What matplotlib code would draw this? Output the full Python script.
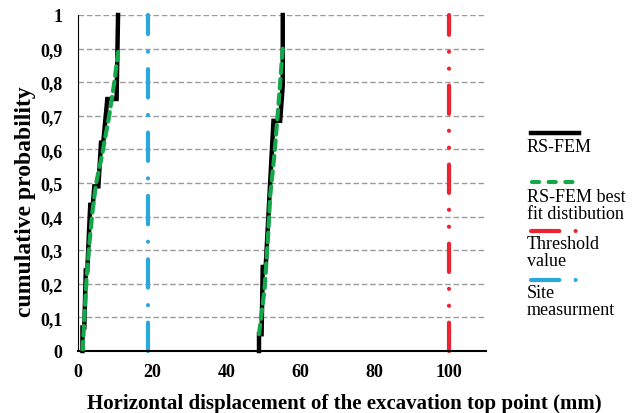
import matplotlib
matplotlib.use("Agg")
import matplotlib.pyplot as plt
from matplotlib.lines import Line2D

# ---- data ----
fem1_x = [1.2, 1.2, 1.7, 2.1, 2.5, 3.3, 4.0, 4.4, 5.5, 6.2, 6.8, 7.9, 10.4, 10.8]
fem1_p = [0.0, 0.07, 0.07, 0.24, 0.24, 0.435, 0.435, 0.49, 0.49, 0.62, 0.62, 0.75, 0.75, 1.0]
fem2_x = [48.8, 48.8, 49.5, 49.8, 50.6, 51.8, 52.7, 54.5, 55.2, 55.2]
fem2_p = [0.0, 0.05, 0.05, 0.25, 0.25, 0.5, 0.685, 0.685, 0.79, 1.0]

fit1_x = [1.25, 1.7, 2.3, 3.0, 3.95, 4.9, 6.6, 8.4, 9.8, 10.8]
fit1_p = [0.0, 0.095, 0.214, 0.313, 0.42, 0.5, 0.59, 0.70, 0.80, 0.89]
fit2_x = [48.8, 50.3, 51.2, 51.8, 53.0, 54.1, 55.2]
fit2_p = [0.05, 0.185, 0.333, 0.46, 0.59, 0.74, 0.9]

threshold_x = 100
site_x = 19
yticks = [0, 0.1, 0.2, 0.3, 0.4, 0.5, 0.6, 0.7, 0.8, 0.9, 1.0]
ytick_labels = ["0", "0,1", "0,2", "0,3", "0,4", "0,5", "0,6", "0,7", "0,8", "0,9", "1"]
xticks = [0, 20, 40, 60, 80, 100]
legend_labels = ["RS-FEM", "RS-FEM best\nfit distibution", "Threshold\nvalue", "Site\nmeasurment"]

BLACK = "#000000"
GREEN = "#14A84B"
RED = "#EE2330"
BLUE = "#2AA7DF"
SERIF = "Liberation Serif"

W, H = 640, 414
fig = plt.figure(figsize=(6.4, 4.14), dpi=100)
ax = fig.add_axes([78 / W, 1 - 352 / H, (486 - 78) / W, (352 - 16) / H])
ax.set_xlim(0, 110)
ax.set_ylim(0, 1)

# grid
for y in yticks[1:]:
    ax.axhline(y, color="#9a9a9a", lw=1.0, ls=(0, (4, 2)), zorder=1)

VLW = 3.0
BLUE_DASH = (6.8, 4.2, 0.01, 4.2)
RED_DASH = (6.8, 4.05, 0.01, 4.05, 0.01, 4.05)
# vertical reference lines
ax.plot([site_x, site_x], [0, 1], color=BLUE, lw=VLW, dashes=BLUE_DASH,
        dash_capstyle="round", zorder=2, clip_on=False)
ax.plot([threshold_x, threshold_x], [0, 1], color=RED, lw=VLW,
        dashes=RED_DASH, dash_capstyle="round", zorder=2, clip_on=False)

# RS-FEM empirical curves
ax.plot(fem1_x, fem1_p, color=BLACK, lw=3.2, zorder=3, clip_on=False, solid_joinstyle="miter")
ax.plot(fem2_x, fem2_p, color=BLACK, lw=3.2, zorder=3, clip_on=False, solid_joinstyle="miter")
# fitted curves
ax.plot(fit1_x, fit1_p, color=GREEN, lw=3.0, dashes=(2.3, 1.4), dash_capstyle="round", zorder=4)
ax.plot(fit2_x, fit2_p, color=GREEN, lw=3.0, dashes=(2.3, 1.4), dash_capstyle="round", zorder=4)

for s in ["top", "right"]:
    ax.spines[s].set_visible(False)
ax.spines["left"].set_linestyle((0, (1, 1)))
ax.spines["left"].set_linewidth(0.8)
ax.spines["bottom"].set_linewidth(1.5)

ax.set_yticks(yticks)
ax.set_yticklabels(ytick_labels)
ax.set_xticks(xticks)
ax.set_xticklabels([str(v) for v in xticks])
ax.tick_params(length=0)
ax.tick_params(axis="y", pad=11)
ax.tick_params(axis="x", pad=9)
for lab in ax.get_xticklabels() + ax.get_yticklabels():
    lab.set_fontfamily(SERIF)
    lab.set_fontweight("bold")
    lab.set_fontsize(13)

fig.text(344 / W, 1 - 404 / H, "Horizontal displacement of the excavation top point (mm)",
         family=SERIF, weight="bold", fontsize=15, ha="center", va="center")
fig.text(26 / W, 1 - 202 / H, "cumulative probability", family=SERIF, weight="bold",
         fontsize=17, rotation=90, ha="center", va="center")

# legend (handles above labels)
def fx(px):
    return px / W

def fy(py):
    return 1 - py / H

handles = [
    dict(y=134, color=BLACK, lw=3.2, dashes=None, x0=531, x1=579),
    dict(y=183, color=GREEN, lw=3.0, dashes=(1.7, 2.3), x0=532, x1=575),
    dict(y=232, color=RED, lw=VLW, dashes=(6.8, 3.9, 0.01, 50), x0=531, x1=579),
    dict(y=281, color=BLUE, lw=VLW, dashes=(6.8, 3.9, 0.01, 50), x0=531, x1=579),
]
label_y = [148, 206, 253, 302]
for h, lab, ly in zip(handles, legend_labels, label_y):
    ln = Line2D([fx(h["x0"]), fx(h["x1"])], [fy(h["y"]), fy(h["y"])], color=h["color"],
                lw=h["lw"], transform=fig.transFigure, dash_capstyle="round")
    if h["dashes"] is not None:
        ln.set_dashes(h["dashes"])
    fig.add_artist(ln)
    fig.text(fx(527), fy(ly), lab, family=SERIF, fontsize=13, ha="left", va="center",
             linespacing=1.0)

fig.savefig("out.png", dpi=100)
